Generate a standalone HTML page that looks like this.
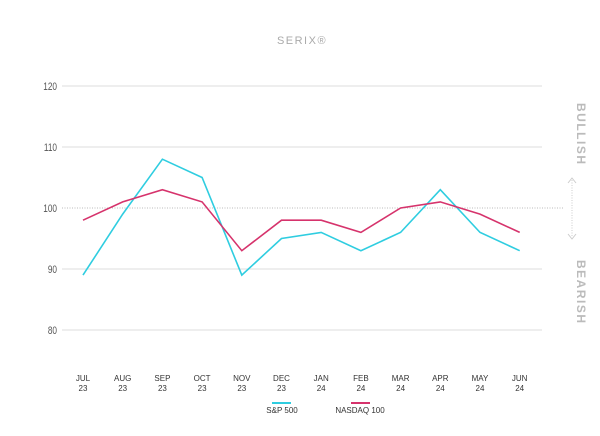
<!DOCTYPE html>
<html><head><style>body{margin:0;background:#fff}svg{display:block}</style></head>
<body>
<svg width="600" height="436" xmlns="http://www.w3.org/2000/svg" font-family="Liberation Sans, sans-serif">
<text x="302" y="44" text-anchor="middle" font-size="11" fill="#aaa" letter-spacing="1.5">SERIX®</text>
<g stroke="#ddd" stroke-width="1">
<line x1="62" y1="86" x2="542" y2="86"/><line x1="62" y1="147" x2="542" y2="147"/>
<line x1="62" y1="269" x2="542" y2="269"/><line x1="62" y1="330" x2="542" y2="330"/>
</g>
<line x1="62" y1="208" x2="564" y2="208" stroke="#bbb" stroke-dasharray="1,1.5"/>
<g font-size="11" fill="#555" text-anchor="end" transform="scale(0.75,1)">
<text x="76" y="90">120</text><text x="76" y="151">110</text><text x="76" y="212">100</text><text x="76" y="273">90</text><text x="76" y="334">80</text>
</g>
<g font-size="12" fill="#bbb" font-weight="bold" letter-spacing="1.5">
<text transform="translate(577,103) rotate(90)">BULLISH</text>
<text transform="translate(577,260) rotate(90)">BEARISH</text>
</g>
<line x1="572" y1="180" x2="572" y2="237" stroke="#ccc" stroke-dasharray="1,1.5"/>
<polyline points="568,183 572,178 576,183" fill="none" stroke="#ccc"/>
<polyline points="568,234 572,239 576,234" fill="none" stroke="#ccc"/>
<polyline fill="none" stroke="#2fcde0" stroke-width="1.6" points="83,275.1 122.7,214.1 162.4,159.2 202.1,177.5 241.8,275.1 281.5,238.5 321.2,232.4 360.9,250.7 400.6,232.4 440.3,189.7 480,232.4 519.7,250.7"/>
<polyline fill="none" stroke="#d6336c" stroke-width="1.6" points="83,220.2 122.7,201.9 162.4,189.7 202.1,201.9 241.8,250.7 281.5,220.2 321.2,220.2 360.9,232.4 400.6,208 440.3,201.9 480,214.1 519.7,232.4"/>
<g font-size="8" fill="#333" text-anchor="middle">
<text x="83" y="381">JUL</text><text x="83" y="391">23</text>
<text x="122.7" y="381">AUG</text><text x="122.7" y="391">23</text>
<text x="162.4" y="381">SEP</text><text x="162.4" y="391">23</text>
<text x="202.1" y="381">OCT</text><text x="202.1" y="391">23</text>
<text x="241.8" y="381">NOV</text><text x="241.8" y="391">23</text>
<text x="281.5" y="381">DEC</text><text x="281.5" y="391">23</text>
<text x="321.2" y="381">JAN</text><text x="321.2" y="391">24</text>
<text x="360.9" y="381">FEB</text><text x="360.9" y="391">24</text>
<text x="400.6" y="381">MAR</text><text x="400.6" y="391">24</text>
<text x="440.3" y="381">APR</text><text x="440.3" y="391">24</text>
<text x="480" y="381">MAY</text><text x="480" y="391">24</text>
<text x="519.7" y="381">JUN</text><text x="519.7" y="391">24</text>
<text x="282" y="413">S&amp;P 500</text><text x="360" y="413">NASDAQ 100</text>
</g>
<line x1="272" y1="403" x2="291" y2="403" stroke="#2fcde0" stroke-width="2"/>
<line x1="351" y1="403" x2="370" y2="403" stroke="#d6336c" stroke-width="2"/>
</svg>
</body></html>
